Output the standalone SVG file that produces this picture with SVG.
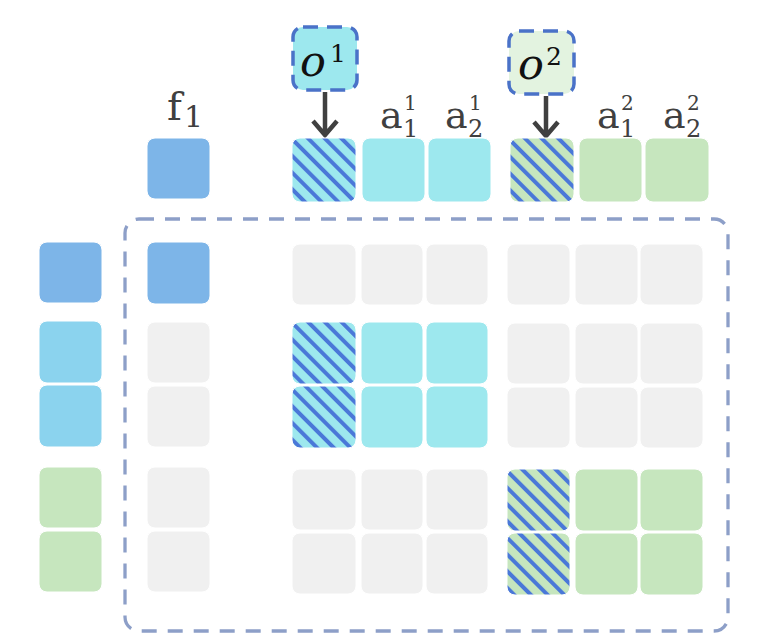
<svg xmlns="http://www.w3.org/2000/svg" width="769" height="634" viewBox="0 0 769 634">
<defs>
<pattern id="hatchC" patternUnits="userSpaceOnUse" width="11.8" height="11.8" patternTransform="rotate(-45)">
<rect width="11.8" height="11.8" fill="#9de8ee"/><rect width="4" height="11.8" fill="#4a78d8"/>
</pattern>
<pattern id="hatchG" patternUnits="userSpaceOnUse" width="11.8" height="11.8" patternTransform="rotate(-45)">
<rect width="11.8" height="11.8" fill="#c6e6be"/><rect width="4" height="11.8" fill="#4a78d8"/>
</pattern>
</defs>
<style>
.c{stroke:#ffffff;stroke-width:1}
.blue{fill:#7db5e8}
.lb{fill:#8bd3ee}
.cy{fill:#9de8ee}
.gr{fill:#c6e6be}
.gy{fill:#f0f0f0}
.hc{fill:url(#hatchC)}
.hg{fill:url(#hatchG)}
.lbl{font-family:"DejaVu Serif",serif;fill:#404040}
.math{font-family:"DejaVu Serif",serif;font-style:italic;fill:#111111}
.sup{font-family:"DejaVu Serif",serif;fill:#111111}
.ob{stroke:#4a72c8;stroke-width:3.5;stroke-dasharray:15 9}
.arr{stroke:#404040;stroke-width:4.5;fill:none;stroke-linecap:butt;stroke-linejoin:miter}
</style>

<g id="frame">
<rect x="125" y="219" width="603" height="412" rx="14" fill="none" stroke="#8d9fc8" stroke-width="3.3" stroke-dasharray="15 11"/>
</g>

<g id="o1">
<rect class="ob" x="293" y="27" width="64" height="63" rx="10" fill="#9de8ee"/>
<text class="math" x="300" y="76" font-size="43">o</text>
<text class="sup" x="330" y="62" font-size="25">1</text>
</g>
<g id="o2">
<rect class="ob" x="509" y="31" width="65" height="63" rx="10" fill="#e3f3e0"/>
<text class="math" x="518" y="79" font-size="43">o</text>
<text class="sup" x="546" y="65" font-size="25">2</text>
</g>

<g id="connectors">
<path class="arr" d="M325 92 V136 M313 121 L325 135 L337 121"/>
<path class="arr" d="M546 96 V137 M534 122 L546 136 L558 122"/>
</g>

<g id="top-row">
<rect class="c blue" x="147" y="138" width="63" height="61" rx="8"/>
<rect class="c hc" x="292" y="138" width="64" height="64" rx="8"/>
<rect class="c cy" x="362" y="138" width="63" height="64" rx="8"/>
<rect class="c cy" x="428" y="138" width="63" height="64" rx="8"/>
<rect class="c hg" x="510" y="138" width="64" height="64" rx="8"/>
<rect class="c gr" x="579" y="138" width="63" height="64" rx="8"/>
<rect class="c gr" x="645" y="138" width="64" height="64" rx="8"/>
</g>

<g id="labels">
<text class="lbl" x="167" y="120" font-size="40">f</text>
<text class="lbl" x="184" y="127" font-size="30">1</text>
<text class="lbl" x="380" y="128" font-size="38">a</text>
<text class="lbl" x="404" y="110" font-size="20">1</text>
<text class="lbl" x="403" y="137" font-size="24">1</text>
<text class="lbl" x="445" y="128" font-size="38">a</text>
<text class="lbl" x="469" y="110" font-size="20">1</text>
<text class="lbl" x="468" y="137" font-size="24">2</text>
<text class="lbl" x="597" y="128" font-size="38">a</text>
<text class="lbl" x="621" y="110" font-size="20">2</text>
<text class="lbl" x="620" y="137" font-size="24">1</text>
<text class="lbl" x="663" y="128" font-size="38">a</text>
<text class="lbl" x="687" y="110" font-size="20">2</text>
<text class="lbl" x="686" y="137" font-size="24">2</text>
</g>

<g id="left-col">
<rect class="c blue" x="39" y="242" width="63" height="61" rx="8"/>
<rect class="c lb" x="39" y="321" width="63" height="62" rx="8"/>
<rect class="c lb" x="39" y="385" width="63" height="62" rx="8"/>
<rect class="c gr" x="39" y="467" width="63" height="61" rx="8"/>
<rect class="c gr" x="39" y="531" width="63" height="61" rx="8"/>
</g>

<g id="f1-col">
<rect class="c blue" x="147" y="242" width="63" height="62" rx="8"/>
<rect class="c gy" x="147" y="322" width="63" height="61" rx="8"/>
<rect class="c gy" x="147" y="386" width="63" height="61" rx="8"/>
<rect class="c gy" x="147" y="467" width="63" height="61" rx="8"/>
<rect class="c gy" x="147" y="531" width="63" height="61" rx="8"/>
</g>

<g id="grid">
<rect class="c gy" x="292" y="244" width="64" height="61" rx="8"/>
<rect class="c gy" x="361" y="244" width="62" height="61" rx="8"/>
<rect class="c gy" x="426" y="244" width="62" height="61" rx="8"/>
<rect class="c gy" x="507" y="244" width="63" height="61" rx="8"/>
<rect class="c gy" x="575" y="244" width="63" height="61" rx="8"/>
<rect class="c gy" x="640" y="244" width="63" height="61" rx="8"/>

<rect class="c hc" x="292" y="322" width="64" height="62" rx="8"/>
<rect class="c cy" x="361" y="322" width="62" height="62" rx="8"/>
<rect class="c cy" x="426" y="322" width="62" height="62" rx="8"/>
<rect class="c gy" x="507" y="323" width="63" height="61" rx="8"/>
<rect class="c gy" x="575" y="323" width="63" height="61" rx="8"/>
<rect class="c gy" x="640" y="323" width="63" height="61" rx="8"/>

<rect class="c hc" x="292" y="386" width="64" height="62" rx="8"/>
<rect class="c cy" x="361" y="386" width="62" height="62" rx="8"/>
<rect class="c cy" x="426" y="386" width="62" height="62" rx="8"/>
<rect class="c gy" x="507" y="387" width="63" height="61" rx="8"/>
<rect class="c gy" x="575" y="387" width="63" height="61" rx="8"/>
<rect class="c gy" x="640" y="387" width="63" height="61" rx="8"/>

<rect class="c gy" x="292" y="469" width="64" height="61" rx="8"/>
<rect class="c gy" x="361" y="469" width="62" height="61" rx="8"/>
<rect class="c gy" x="426" y="469" width="62" height="61" rx="8"/>
<rect class="c hg" x="507" y="469" width="63" height="62" rx="8"/>
<rect class="c gr" x="575" y="469" width="63" height="62" rx="8"/>
<rect class="c gr" x="640" y="469" width="63" height="62" rx="8"/>

<rect class="c gy" x="292" y="533" width="64" height="61" rx="8"/>
<rect class="c gy" x="361" y="533" width="62" height="61" rx="8"/>
<rect class="c gy" x="426" y="533" width="62" height="61" rx="8"/>
<rect class="c hg" x="507" y="533" width="63" height="62" rx="8"/>
<rect class="c gr" x="575" y="533" width="63" height="62" rx="8"/>
<rect class="c gr" x="640" y="533" width="63" height="62" rx="8"/>
</g>
</svg>
